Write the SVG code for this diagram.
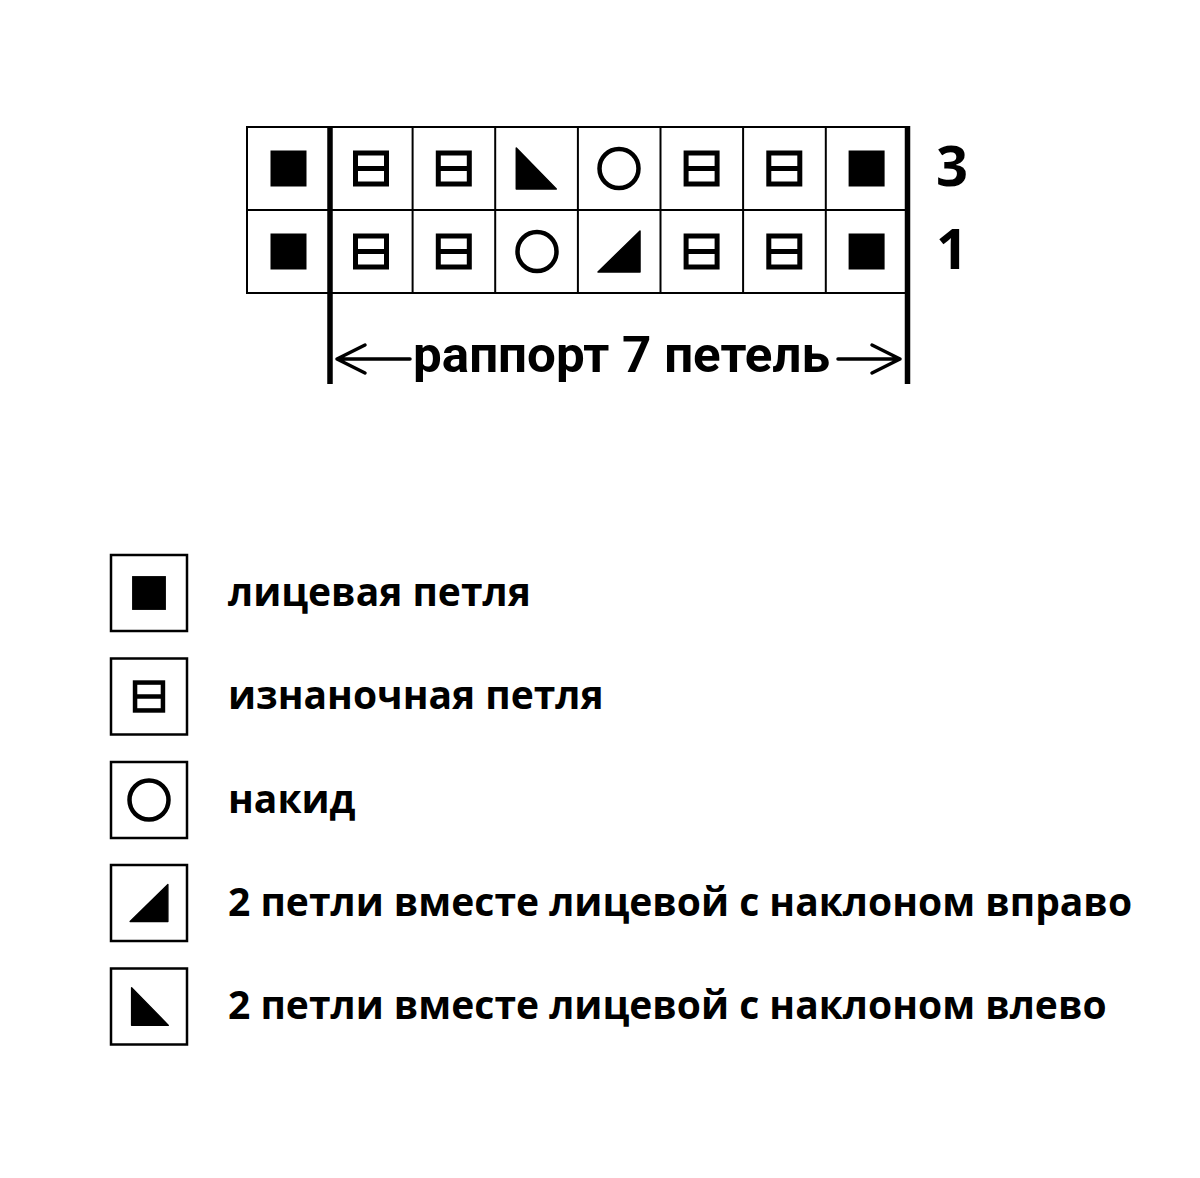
<svg xmlns="http://www.w3.org/2000/svg" xmlns:xlink="http://www.w3.org/1999/xlink" width="1200" height="1178" viewBox="0 0 1200 1178">
<style>
.grid{fill:none;stroke:#000;stroke-width:2}
.thick{stroke:#000;stroke-width:5.5}
.lbl{font-family:"Open Sans","DejaVu Sans",sans-serif;font-weight:bold;fill:#000}
.leg{font-size:39px}
.row{font-size:56px;text-anchor:middle}
.rap{font-family:Roboto,"Open Sans",sans-serif;font-weight:bold;font-size:50px;fill:#000}
.arrow{fill:none;stroke:#000;stroke-width:3.5;stroke-linecap:round;stroke-linejoin:round}
.box{fill:#fff;stroke:#000;stroke-width:2.5}
</style>
<defs>
<rect id="knit" x="-18" y="-18" width="36" height="36" fill="#000"/>
<g id="purl" fill="none" stroke="#000" stroke-width="5"><rect x="-15.5" y="-15.5" width="31" height="31"/><line x1="-15.5" y1="0" x2="15.5" y2="0"/></g>
<circle id="yo" r="19.5" fill="none" stroke="#000" stroke-width="4.5"/>
<polygon id="tl" points="-20,-20.5 -20,20.5 20,20.5" fill="#000" stroke="#000" stroke-width="1.5" stroke-linejoin="round"/>
<polygon id="tr" points="-21,20.5 21,-20.5 21,20.5" fill="#000" stroke="#000" stroke-width="1.5" stroke-linejoin="round"/>
</defs>
<rect width="1200" height="1178" fill="#fff"/>
<g id="chart">
<rect class="grid" x="247" y="127" width="661" height="166"/>
<line class="grid" x1="247" y1="210" x2="908" y2="210"/>
<line class="grid" x1="412.6" y1="127" x2="412.6" y2="293"/>
<line class="grid" x1="495.2" y1="127" x2="495.2" y2="293"/>
<line class="grid" x1="577.9" y1="127" x2="577.9" y2="293"/>
<line class="grid" x1="660.5" y1="127" x2="660.5" y2="293"/>
<line class="grid" x1="743.1" y1="127" x2="743.1" y2="293"/>
<line class="grid" x1="825.8" y1="127" x2="825.8" y2="293"/>
<line class="thick" x1="330" y1="126" x2="330" y2="384"/>
<line class="thick" x1="907.5" y1="126" x2="907.5" y2="384"/>
</g>
<g id="row3">
<use xlink:href="#knit" href="#knit" transform="translate(288.5,168.5)"/>
<use xlink:href="#purl" href="#purl" transform="translate(371,168.5)"/>
<use xlink:href="#purl" href="#purl" transform="translate(453.8,168.5)"/>
<use xlink:href="#tl" href="#tl" transform="translate(536.3,168.5)"/>
<use xlink:href="#yo" href="#yo" transform="translate(619,168.5)"/>
<use xlink:href="#purl" href="#purl" transform="translate(701.6,168.5)"/>
<use xlink:href="#purl" href="#purl" transform="translate(784.3,168.5)"/>
<use xlink:href="#knit" href="#knit" transform="translate(866.6,168.5)"/>
</g>
<g id="row1">
<use xlink:href="#knit" href="#knit" transform="translate(288.5,251.5)"/>
<use xlink:href="#purl" href="#purl" transform="translate(371,251.5)"/>
<use xlink:href="#purl" href="#purl" transform="translate(453.8,251.5)"/>
<use xlink:href="#yo" href="#yo" transform="translate(537,251.5)"/>
<use xlink:href="#tr" href="#tr" transform="translate(619,251.5)"/>
<use xlink:href="#purl" href="#purl" transform="translate(701.6,251.5)"/>
<use xlink:href="#purl" href="#purl" transform="translate(784.3,251.5)"/>
<use xlink:href="#knit" href="#knit" transform="translate(866.6,251.5)"/>
</g>
<g id="row-labels">
<text class="lbl row" x="952" y="186">3</text>
<text class="lbl row" x="952" y="269">1</text>
</g>
<g id="connectors">
<path class="arrow" d="M337,359 H410 M365,345 L337,359 L365,373"/>
<path class="arrow" d="M838,359 H900 M872,345 L900,359 L872,373"/>
</g>
<g id="rapport">
<text class="rap" x="413" y="372" textLength="417" lengthAdjust="spacingAndGlyphs">раппорт 7 петель</text>
</g>
<g id="legend-knit">
<rect class="box" x="111" y="555" width="76" height="76"/>
<use xlink:href="#knit" href="#knit" transform="translate(149,593) scale(0.94)"/>
<text class="lbl leg" x="228" y="606">лицевая петля</text>
</g>
<g id="legend-purl">
<rect class="box" x="111" y="658.5" width="76" height="76"/>
<use xlink:href="#purl" href="#purl" transform="translate(149,696.5) scale(0.9)"/>
<text class="lbl leg" x="228" y="709">изнаночная петля</text>
</g>
<g id="legend-yo">
<rect class="box" x="111" y="762" width="76" height="76"/>
<use xlink:href="#yo" href="#yo" transform="translate(149,800)"/>
<text class="lbl leg" x="228" y="813">накид</text>
</g>
<g id="legend-right">
<rect class="box" x="111" y="865" width="76" height="76"/>
<use xlink:href="#tr" href="#tr" transform="translate(149,903) scale(0.9)"/>
<text class="lbl leg" x="228" y="916">2 петли вместе лицевой с наклоном вправо</text>
</g>
<g id="legend-left">
<rect class="box" x="111" y="968.5" width="76" height="76"/>
<use xlink:href="#tl" href="#tl" transform="translate(150,1006.5) scale(0.92)"/>
<text class="lbl leg" x="228" y="1019">2 петли вместе лицевой с наклоном влево</text>
</g>
</svg>
